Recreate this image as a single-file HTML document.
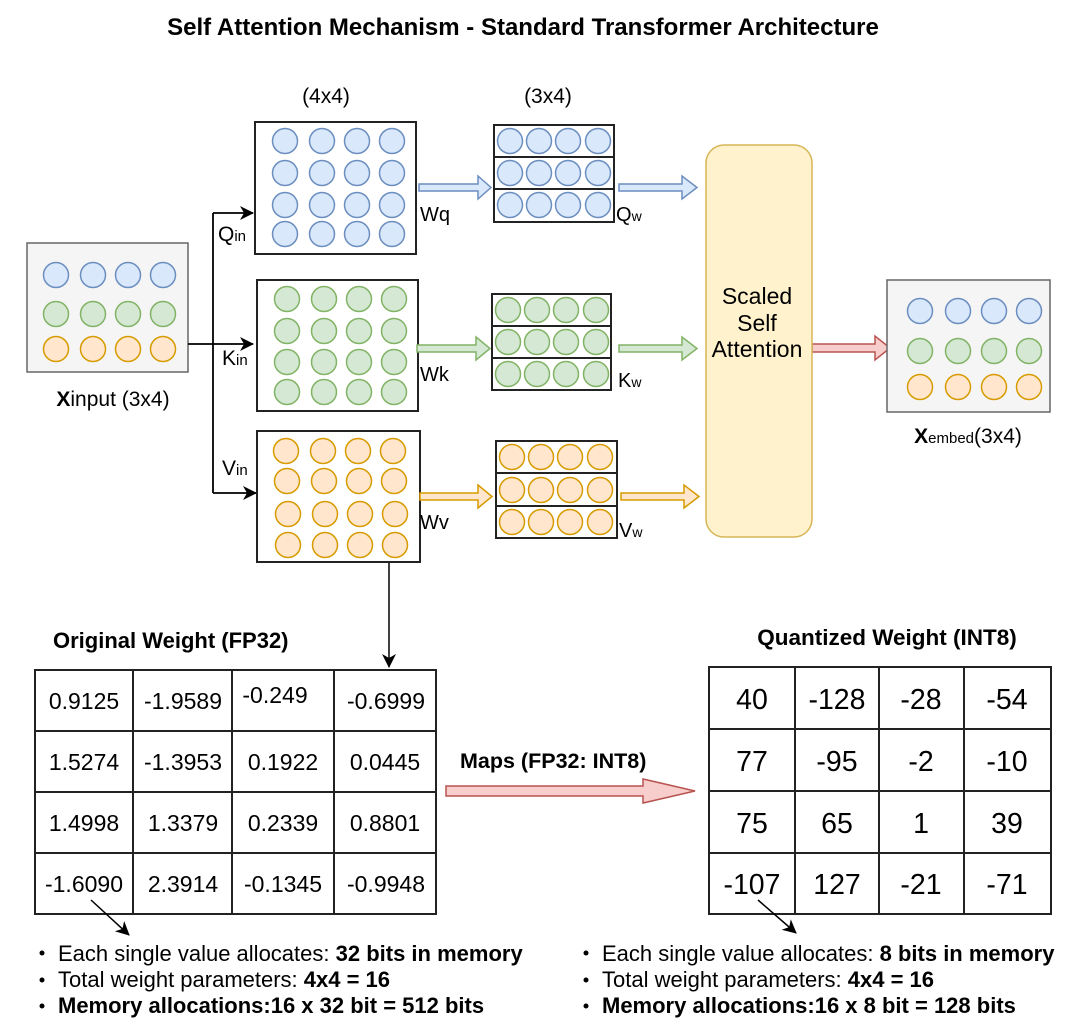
<!DOCTYPE html>
<html><head><meta charset="utf-8"><style>
html,body{margin:0;padding:0;background:#fff;}
svg{display:block;font-family:"Liberation Sans",Arial,sans-serif;}
</style></head><body>
<svg width="1080" height="1030" viewBox="0 0 1080 1030" xmlns="http://www.w3.org/2000/svg">
<defs>
<marker id="ah" markerWidth="14" markerHeight="14" refX="13" refY="7" orient="auto" markerUnits="userSpaceOnUse"><path d="M0,0 L14,7 L0,14 L4,7 Z" fill="#000"/></marker>
<g id="cb"><circle r="12.5" fill="#dae8fc" stroke="#6c8ebf" stroke-width="1.5"/></g>
<g id="cg"><circle r="12.5" fill="#d5e8d4" stroke="#82b366" stroke-width="1.5"/></g>
<g id="co"><circle r="12.5" fill="#ffe6cc" stroke="#d79b00" stroke-width="1.5"/></g>
<g id="row4b"><use href="#cb" x="0"/><use href="#cb" x="37"/><use href="#cb" x="72"/><use href="#cb" x="107"/></g>
<g id="row4g"><use href="#cg" x="0"/><use href="#cg" x="37"/><use href="#cg" x="72"/><use href="#cg" x="107"/></g>
<g id="row4o"><use href="#co" x="0"/><use href="#co" x="37"/><use href="#co" x="72"/><use href="#co" x="107"/></g>
<g id="srb"><use href="#cb" x="0"/><use href="#cb" x="29"/><use href="#cb" x="58"/><use href="#cb" x="88"/></g>
<g id="srg"><use href="#cg" x="0"/><use href="#cg" x="29"/><use href="#cg" x="58"/><use href="#cg" x="88"/></g>
<g id="sro"><use href="#co" x="0"/><use href="#co" x="29"/><use href="#co" x="58"/><use href="#co" x="88"/></g>
</defs>

<text x="523" y="35" text-anchor="middle" font-size="24" font-weight="bold">Self Attention Mechanism - Standard Transformer Architecture</text>

<!-- Xinput -->
<rect x="27" y="243" width="161" height="129" fill="#f5f5f5" stroke="#666" stroke-width="1.5"/>
<use href="#row4b" x="56" y="275"/>
<use href="#row4g" x="56" y="314"/>
<use href="#row4o" x="56" y="349"/>
<text x="113" y="406" text-anchor="middle" font-size="21"><tspan font-weight="bold">X</tspan>input (3x4)</text>

<!-- connectors -->
<path d="M188,344 H213 M213,213 V493" stroke="#000" stroke-width="1.8" fill="none"/>
<line x1="213" y1="213" x2="253" y2="213" stroke="#000" stroke-width="1.8" marker-end="url(#ah)"/>
<line x1="213" y1="344" x2="253" y2="344" stroke="#000" stroke-width="1.8" marker-end="url(#ah)"/>
<line x1="213" y1="493" x2="256" y2="493" stroke="#000" stroke-width="1.8" marker-end="url(#ah)"/>
<text x="218" y="241" font-size="21">Q<tspan font-size="15">in</tspan></text>
<text x="222" y="365" font-size="21">K<tspan font-size="15">in</tspan></text>
<text x="222" y="475" font-size="21">V<tspan font-size="15">in</tspan></text>

<text x="326" y="103" text-anchor="middle" font-size="21">(4x4)</text>
<text x="548" y="103" text-anchor="middle" font-size="21">(3x4)</text>

<!-- Q box -->
<rect x="255" y="122" width="161" height="132" fill="#fff" stroke="#222" stroke-width="2"/>
<use href="#row4b" x="285" y="141"/><use href="#row4b" x="285" y="173"/><use href="#row4b" x="285" y="205"/><use href="#row4b" x="285" y="234"/>
<!-- K box -->
<rect x="257" y="280" width="161" height="131" fill="#fff" stroke="#222" stroke-width="2"/>
<use href="#row4g" x="287" y="299"/><use href="#row4g" x="287" y="331"/><use href="#row4g" x="287" y="362"/><use href="#row4g" x="287" y="392"/>
<!-- V box -->
<rect x="257" y="431" width="163" height="131" fill="#fff" stroke="#222" stroke-width="2"/>
<use href="#row4o" x="286" y="451"/><use href="#row4o" x="287" y="481"/><use href="#row4o" x="288" y="514"/><use href="#row4o" x="288" y="545"/>

<!-- block arrows -->
<path d="M419,184 H478 V176 L491,187.5 L478,199 V191 H419 Z" fill="#dae8fc" stroke="#6c8ebf" stroke-width="1.5"/>
<path d="M619,184 H682 V176 L697,187.5 L682,199 V191 H619 Z" fill="#dae8fc" stroke="#6c8ebf" stroke-width="1.5"/>
<path d="M417,345 H476 V337 L490,348.5 L476,360 V352 H417 Z" fill="#d5e8d4" stroke="#82b366" stroke-width="1.5"/>
<path d="M619,345 H682 V337 L697,348.5 L682,360 V352 H619 Z" fill="#d5e8d4" stroke="#82b366" stroke-width="1.5"/>
<path d="M420,493 H478 V485 L492,496.5 L478,508 V500 H420 Z" fill="#ffe6cc" stroke="#d79b00" stroke-width="1.5"/>
<path d="M621,493 H684 V485 L699,496.5 L684,508 V500 H621 Z" fill="#ffe6cc" stroke="#d79b00" stroke-width="1.5"/>
<path d="M812,344 H875 V336 L890,348 L875,360 V352 H812 Z" fill="#f8cecc" stroke="#b85450" stroke-width="1.5"/>

<text x="420" y="221" font-size="20">Wq</text>
<text x="420" y="381" font-size="20">Wk</text>
<text x="420" y="529" font-size="20">Wv</text>
<text x="616" y="221" font-size="20">Q<tspan font-size="14">w</tspan></text>
<text x="618" y="387" font-size="20">K<tspan font-size="14">w</tspan></text>
<text x="619" y="537" font-size="20">V<tspan font-size="14">w</tspan></text>

<!-- small matrices -->
<rect x="494" y="125" width="120" height="97" fill="#fff" stroke="#222" stroke-width="2"/>
<path d="M494,157 H614 M494,189 H614" stroke="#222" stroke-width="2"/>
<use href="#srb" x="510" y="141"/><use href="#srb" x="510" y="173"/><use href="#srb" x="510" y="205"/>
<rect x="492" y="294" width="119" height="96" fill="#fff" stroke="#222" stroke-width="2"/>
<path d="M492,326 H611 M492,358 H611" stroke="#222" stroke-width="2"/>
<use href="#srg" x="508" y="310"/><use href="#srg" x="508" y="342"/><use href="#srg" x="508" y="374"/>
<rect x="496" y="441" width="121" height="97" fill="#fff" stroke="#222" stroke-width="2"/>
<path d="M496,473 H617 M496,506 H617" stroke="#222" stroke-width="2"/>
<use href="#sro" x="512" y="457"/><use href="#sro" x="512" y="490"/><use href="#sro" x="512" y="522"/>

<!-- Scaled self attention -->
<rect x="706" y="145" width="106" height="392" rx="18" fill="#fff2cc" stroke="#d6b656" stroke-width="1.5"/>
<text x="757" y="304" text-anchor="middle" font-size="23">Scaled</text>
<text x="757" y="331" text-anchor="middle" font-size="23">Self</text>
<text x="757" y="357" text-anchor="middle" font-size="23">Attention</text>

<!-- Xembed -->
<rect x="887" y="280" width="163" height="132" fill="#f5f5f5" stroke="#666" stroke-width="1.5"/>
<use href="#cb" x="920" y="311"/><use href="#cb" x="958" y="311"/><use href="#cb" x="994" y="311"/><use href="#cb" x="1029" y="311"/>
<use href="#cg" x="920" y="351"/><use href="#cg" x="958" y="351"/><use href="#cg" x="994" y="351"/><use href="#cg" x="1029" y="351"/>
<use href="#co" x="920" y="387"/><use href="#co" x="958" y="387"/><use href="#co" x="994" y="387"/><use href="#co" x="1029" y="387"/>
<text x="968" y="443" text-anchor="middle" font-size="21"><tspan font-weight="bold">X</tspan><tspan font-size="15">embed</tspan>(3x4)</text>

<!-- down arrow -->
<line x1="389" y1="563" x2="389" y2="667" stroke="#000" stroke-width="1.5" marker-end="url(#ah)"/>

<!-- Original table -->
<text x="53" y="648" font-size="22" font-weight="bold">Original Weight (FP32)</text>
<rect x="35" y="670" width="401" height="244" fill="#fff" stroke="#222" stroke-width="2"/>
<path d="M133,670 V914 M232,670 V914 M334,670 V914 M35,731 H436 M35,792 H436 M35,853 H436" stroke="#222" stroke-width="2"/>
<g font-size="23" text-anchor="middle">
<text x="84" y="709">0.9125</text><text x="183" y="709">-1.9589</text><text x="275" y="703">-0.249</text><text x="386" y="709">-0.6999</text>
<text x="84" y="770">1.5274</text><text x="183" y="770">-1.3953</text><text x="283" y="770">0.1922</text><text x="385" y="770">0.0445</text>
<text x="84" y="831">1.4998</text><text x="183" y="831">1.3379</text><text x="283" y="831">0.2339</text><text x="385" y="831">0.8801</text>
<text x="84" y="892">-1.6090</text><text x="183" y="892">2.3914</text><text x="283" y="892">-0.1345</text><text x="386" y="892">-0.9948</text>
</g>
<line x1="91" y1="900" x2="129" y2="935" stroke="#000" stroke-width="1.5" marker-end="url(#ah)"/>
<g font-size="22">
<circle cx="42" cy="953" r="2.5" fill="#000"/><circle cx="42" cy="980" r="2.5" fill="#000"/><circle cx="42" cy="1006" r="2.5" fill="#000"/>
<text x="58" y="961">Each single value allocates: <tspan font-weight="bold">32 bits in memory</tspan></text>
<text x="58" y="987">Total weight parameters: <tspan font-weight="bold">4x4 = 16</tspan></text>
<text x="58" y="1013" font-weight="bold">Memory allocations:16 x 32 bit = 512 bits</text>
</g>

<!-- Maps arrow -->
<text x="460" y="768" font-size="21.5" font-weight="bold">Maps (FP32: INT8)</text>
<path d="M446,786 H643 V779 L695,791 L643,803 V796 H446 Z" fill="#f8cecc" stroke="#b85450" stroke-width="1.5"/>

<!-- Quantized table -->
<text x="887" y="645" text-anchor="middle" font-size="22.5" font-weight="bold">Quantized Weight (INT8)</text>
<rect x="709" y="667" width="342" height="247" fill="#fff" stroke="#222" stroke-width="2"/>
<path d="M795,667 V914 M879,667 V914 M964,667 V914 M709,729 H1051 M709,791 H1051 M709,853 H1051" stroke="#222" stroke-width="2"/>
<g font-size="28.5" text-anchor="middle">
<text x="752" y="709">40</text><text x="837" y="709">-128</text><text x="921" y="709">-28</text><text x="1007" y="709">-54</text>
<text x="752" y="771">77</text><text x="837" y="771">-95</text><text x="921" y="771">-2</text><text x="1007" y="771">-10</text>
<text x="752" y="833">75</text><text x="837" y="833">65</text><text x="921" y="833">1</text><text x="1007" y="833">39</text>
<text x="752" y="894">-107</text><text x="837" y="894">127</text><text x="921" y="894">-21</text><text x="1007" y="894">-71</text>
</g>
<line x1="758" y1="900" x2="796" y2="933" stroke="#000" stroke-width="1.5" marker-end="url(#ah)"/>
<g font-size="22">
<circle cx="586" cy="953" r="2.5" fill="#000"/><circle cx="586" cy="980" r="2.5" fill="#000"/><circle cx="586" cy="1006" r="2.5" fill="#000"/>
<text x="602" y="961">Each single value allocates: <tspan font-weight="bold">8 bits in memory</tspan></text>
<text x="602" y="987">Total weight parameters: <tspan font-weight="bold">4x4 = 16</tspan></text>
<text x="602" y="1013" font-weight="bold">Memory allocations:16 x 8 bit = 128 bits</text>
</g>
</svg>
</body></html>
